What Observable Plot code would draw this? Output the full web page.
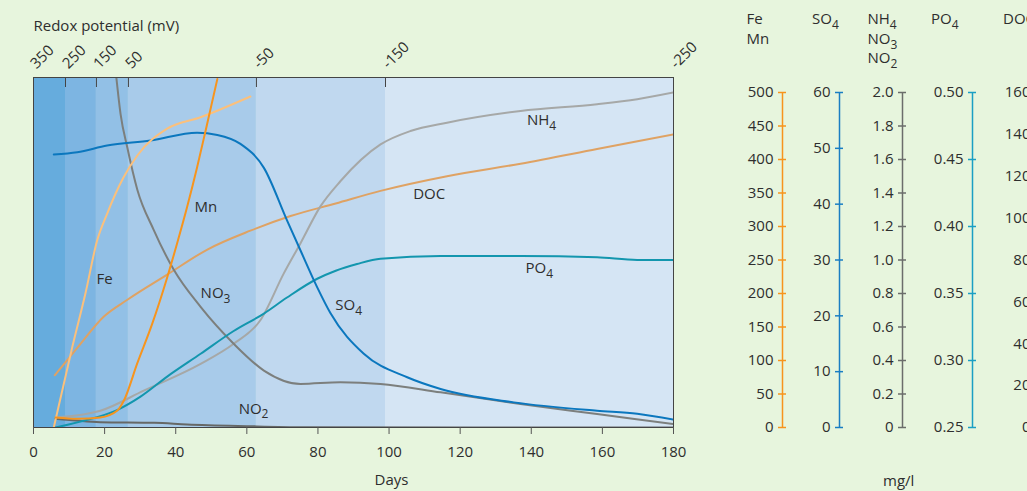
<!DOCTYPE html>
<html><head><meta charset="utf-8">
<script src="https://cdn.jsdelivr.net/npm/d3@7"></script>
<script src="https://cdn.jsdelivr.net/npm/@observablehq/plot@0.6"></script>
<style>
html,body{margin:0;padding:0;}
body{width:1027px;height:491px;overflow:hidden;background:#e7f5dd;font-family:"Open Sans",sans-serif;color:#333;}
#chart{position:relative;width:1027px;height:491px;overflow:hidden;}
#chart svg{position:absolute;top:0;}
.hdr{position:absolute;font-size:15px;line-height:19.5px;color:#2e2e2e;white-space:nowrap;}
.hdr sub{font-size:0.8em;vertical-align:-0.4em;line-height:0;}
</style></head><body><div id="chart"></div>
<script>
// ---- data ----
const redoxDays = [0, 9, 17.7, 26.7, 62.7, 99, 180];
const redoxLabels = ["350", "250", "150", "50", "-50", "-150", "-250"];
const xTicks = [0, 20, 40, 60, 80, 100, 120, 140, 160, 180];

const feDays = [5.7, 10.9, 14.6, 17.9, 20.7, 25.3, 29.2, 37.6, 47, 61];
const feValues = [0, 120, 200, 279, 319, 373, 406, 446, 463, 494];
const mnDays = [6.2, 12.3, 18.8, 23.5, 25.4, 29.2, 33.4, 37.6, 40.4, 43.2, 46, 48.4, 51.7];
const mnValues = [15, 13, 15, 25, 40, 96, 155, 224, 275, 329, 388, 443, 520];
const so4Days = [5.7, 12.3, 20.7, 32.9, 46, 51.7, 58.2, 64.8, 71.3, 75.1, 79.8, 83.5, 92.9, 105.1, 114.5, 135.1, 158.5, 169.8, 180];
const so4Values = [48.9, 49.3, 50.5, 51.4, 52.8, 52.4, 50.8, 46.5, 37.1, 31.7, 25.1, 20.5, 13.2, 9.0, 6.9, 4.5, 3.0, 2.45, 1.4];
const nh4Days = [6.2, 18.8, 31, 47, 56.3, 63.8, 70.4, 75.1, 80.7, 86.3, 97.6, 106, 116.3, 137, 158.5, 169.8, 180];
const nh4Values = [0.06, 0.10, 0.22, 0.38, 0.50, 0.64, 0.92, 1.10, 1.32, 1.47, 1.69, 1.77, 1.82, 1.89, 1.93, 1.96, 2.0];
const no3Days = [23.3, 24.5, 26.4, 29.2, 33.8, 39.5, 47, 56.3, 64.8, 75.1, 86.3, 97.6, 114.5, 137, 158.5, 180];
const no3Values = [2.09, 1.87, 1.67, 1.42, 1.18, 0.94, 0.72, 0.50, 0.34, 0.26, 0.27, 0.26, 0.21, 0.14, 0.08, 0.02];
const no2Days = [6.2, 18.8, 34, 43.2, 60, 76, 180];
const no2Values = [0.052, 0.032, 0.028, 0.018, 0.008, 0.002, 0];
const po4Days = [6.2, 14.1, 23.5, 30.1, 37.6, 47, 56.3, 64.8, 71.3, 79.8, 85, 91, 97.6, 114.5, 137, 158.5, 169.8, 180];
const po4Values = [0.25, 0.255, 0.263, 0.273, 0.288, 0.305, 0.322, 0.335, 0.347, 0.361, 0.367, 0.372, 0.376, 0.378, 0.378, 0.377, 0.375, 0.375];
const docDays = [6, 12.3, 19.8, 26.4, 37.6, 48.9, 61, 72.3, 85, 97.6, 116.3, 137, 158.5, 180];
const docValues = [25, 38, 53, 61, 73, 85, 94, 101, 107, 113, 120, 126, 133, 140];

const labelNames = ["Fe", "Mn", "NO3", "NO2", "SO4", "DOC", "PO4", "NH4"];
const labelDays = [17.7, 45.3, 47, 57.7, 84.9, 106.8, 138.4, 138.8];
const labelValues = [221, 329, 0.80, 0.112, 21.9, 111.3, 0.369, 1.833];
const labelAxes = ["FeMn", "FeMn", "N", "N", "SO4", "DOC", "PO4", "N"];

const feMnTicks = [0, 50, 100, 150, 200, 250, 300, 350, 400, 450, 500];
const feMnTickLabels = ["0", "50", "100", "150", "200", "250", "300", "350", "400", "450", "500"];
const so4Ticks = [0, 10, 20, 30, 40, 50, 60];
const so4TickLabels = ["0", "10", "20", "30", "40", "50", "60"];
const nTicks = [0, 0.2, 0.4, 0.6, 0.8, 1.0, 1.2, 1.4, 1.6, 1.8, 2.0];
const nTickLabels = ["0", "0.2", "0.4", "0.6", "0.8", "1.0", "1.2", "1.4", "1.6", "1.8", "2.0"];
const po4Ticks = [0.25, 0.30, 0.35, 0.40, 0.45, 0.50];
const po4TickLabels = ["0.25", "0.30", "0.35", "0.40", "0.45", "0.50"];
const docTicks = [0, 20, 40, 60, 80, 100, 120, 140, 160];
const docTickLabels = ["0", "20", "40", "60", "80", "100", "120", "140", "160"];

// ---- styles / layout ----
const zoneColors = ["#66acdd", "#7db5e2", "#92c0e6", "#a8cbea", "#c0d8ef", "#d5e5f4"];
const axisRanges = {FeMn: [0, 500], SO4: [0, 60], N: [0, 2], PO4: [0.25, 0.5], DOC: [0, 160]};
const norm = (axis, v) => (v - axisRanges[axis][0]) / (axisRanges[axis][1] - axisRanges[axis][0]);
const fontStyle = {fontFamily: '"Open Sans", sans-serif', fontSize: "15px", color: "#2e2e2e", background: "transparent", overflow: "visible"};

const series = [
  {days: docDays, values: docValues, axis: "DOC", color: "#dfa263"},
  {days: no2Days, values: no2Values, axis: "N", color: "#666866"},
  {days: nh4Days, values: nh4Values, axis: "N", color: "#a6a8a7"},
  {days: no3Days, values: no3Values, axis: "N", color: "#7c7f7d"},
  {days: po4Days, values: po4Values, axis: "PO4", color: "#1396ae"},
  {days: so4Days, values: so4Values, axis: "SO4", color: "#0b77be"},
  {days: feDays, values: feValues, axis: "FeMn", color: "#fbc07c"},
  {days: mnDays, values: mnValues, axis: "FeMn", color: "#f7941d"}
];

const zones = d3.pairs(redoxDays);
const labels = labelNames.map((n, i) => ({name: n, day: labelDays[i], value: labelValues[i], axis: labelAxes[i]}));

const main = Plot.plot({
  width: 1027, height: 491,
  marginLeft: 33, marginRight: 354, marginTop: 77, marginBottom: 64,
  x: {domain: [0, 180]},
  y: {domain: [0, 1], range: [427, 92], axis: null},
  style: fontStyle,
  marks: [
    ...zones.map((z, i) => Plot.rect([z], {x1: d => d[0], x2: d => d[1], fill: zoneColors[i]})),
    ...series.map(s => Plot.line(s.days.map((d, i) => [d, s.values[i]]), {
      x: d => d[0], y: d => norm(s.axis, d[1]), stroke: s.color, strokeWidth: 2, curve: "monotone-x", clip: true
    })),
    Plot.frame({stroke: "#444"}),
    Plot.tickX(redoxDays.slice(1, -1), {x: d => d, insetBottom: 340, stroke: "#444"}),
    Plot.text(redoxDays, {x: d => d, text: (d, i) => redoxLabels[i], frameAnchor: "top", rotate: -45,
      textAnchor: "start", lineAnchor: "bottom", dx: 3, dy: -8, fill: "#2e2e2e"}),
    Plot.axisX({ticks: xTicks, tickSize: 7, tickPadding: 12, stroke: "#555", fill: "#2e2e2e", label: null}),
    Plot.text(["Days"], {frameAnchor: "bottom", dx: 38, dy: 57, fill: "#2e2e2e"}),
    Plot.text(["Redox potential (mV)"], {frameAnchor: "top-left", dy: -57, textAnchor: "start", fill: "#2e2e2e"}),
    Plot.text(labels, {x: "day", y: d => norm(d.axis, d.value), text: "name", textAnchor: "start", fill: "#2e2e2e"})
  ]
});

// subscripts for chemical formulas
main.querySelectorAll("text").forEach(t => {
  const m = t.textContent.match(/^([A-Za-z]+)(\d)$/);
  if (m && t.children.length === 0) {
    t.textContent = m[1];
    const ts = document.createElementNS("http://www.w3.org/2000/svg", "tspan");
    ts.setAttribute("dy", "0.4em");
    ts.setAttribute("font-size", "0.8em");
    ts.textContent = m[2];
    t.appendChild(ts);
  }
});

const chart = document.getElementById("chart");
main.style.left = "0px";
chart.appendChild(main);

// right-hand axes
const rightAxes = [
  {axis: "FeMn", ticks: feMnTicks, tickLabels: feMnTickLabels, color: "#f7941d", at: 782},
  {axis: "SO4", ticks: so4Ticks, tickLabels: so4TickLabels, color: "#1a7ec3", at: 839},
  {axis: "N", ticks: nTicks, tickLabels: nTickLabels, color: "#6b6d6b", at: 902},
  {axis: "PO4", ticks: po4Ticks, tickLabels: po4TickLabels, color: "#1b9fc4", at: 972},
  {axis: "DOC", ticks: docTicks, tickLabels: docTickLabels, color: "#1b9fc4", at: 1039}
];
rightAxes.forEach(cfg => {
  const [lo, hi] = axisRanges[cfg.axis];
  const svg = Plot.plot({
    width: 70, height: 491, marginLeft: 60, marginRight: 2, marginTop: 77, marginBottom: 64,
    x: {domain: [-1, 1], axis: null},
    y: {domain: [lo, hi], range: [427, 92], axis: null},
    style: fontStyle,
    marks: [
      Plot.ruleX([0], {y1: lo, y2: hi, stroke: cfg.color, strokeWidth: 1.5}),
      Plot.ruleY(cfg.ticks, {y: d => d, x1: -1, x2: 1, stroke: cfg.color, strokeWidth: 1.5}),
      Plot.text(cfg.ticks, {y: d => d, x: -1, dx: -5, textAnchor: "end", text: (d, i) => cfg.tickLabels[i], fill: "#2e2e2e"})
    ]
  });
  svg.style.left = (cfg.at - 64) + "px";
  chart.appendChild(svg);
});

// headers
const headers = [
  {html: "Fe<br>Mn", left: 746.5},
  {html: "SO<sub>4</sub>", left: 812},
  {html: "NH<sub>4</sub><br>NO<sub>3</sub><br>NO<sub>2</sub>", left: 867.5},
  {html: "PO<sub>4</sub>", left: 931},
  {html: "DOC", left: 1003}
];
headers.forEach(h => {
  const div = document.createElement("div");
  div.className = "hdr";
  div.style.left = h.left + "px";
  div.style.top = "9px";
  div.innerHTML = h.html;
  chart.appendChild(div);
});
const unit = document.createElement("div");
unit.className = "hdr";
unit.style.left = "883px";
unit.style.top = "471px";
unit.textContent = "mg/l";
chart.appendChild(unit);
</script></body></html>
